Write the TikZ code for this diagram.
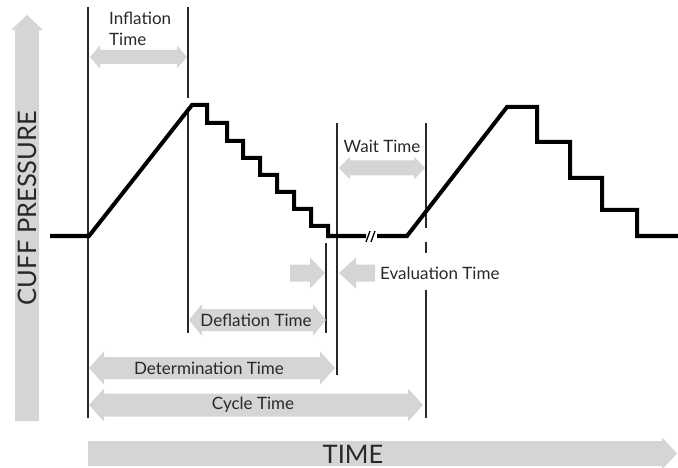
\documentclass[tikz,border=0pt]{standalone}
\usepackage{fontspec}
\setmainfont{Lato}
\definecolor{bargray}{RGB}{212,213,215}
\definecolor{inkgray}{RGB}{40,40,40}
% double headed fat arrow: x1, x2, y, shaft half, head half, head length
\newcommand{\twoarrow}[6]{\fill[bargray] (#1,#3) -- ({#1+#6},{#3-#5}) -- ({#1+#6},{#3-#4}) -- ({#2-#6},{#3-#4}) -- ({#2-#6},{#3-#5}) -- (#2,#3) -- ({#2-#6},{#3+#5}) -- ({#2-#6},{#3+#4}) -- ({#1+#6},{#3+#4}) -- ({#1+#6},{#3+#5}) -- cycle;}
% single fat arrow: tail x, head base x, tip x, y, shaft half, head half
\newcommand{\onearrow}[6]{\fill[bargray] (#1,{#4-#5}) -- (#2,{#4-#5}) -- (#2,{#4-#6}) -- (#3,#4) -- (#2,{#4+#6}) -- (#2,{#4+#5}) -- (#1,{#4+#5}) -- cycle;}

\begin{document}
\begin{tikzpicture}[x=1pt, y=-1pt,
    pressure/.style = {line width=4pt, miter limit=10},
    guide/.style = {line width=1.1pt, draw=inkgray},
    lbl/.style = {text=inkgray, font=\fontsize{17}{21}\selectfont, inner sep=0pt},
    big/.style = {text=inkgray, inner sep=0pt}]
  \useasboundingbox (0,0) rectangle (678,468);

  % axes
  \fill[bargray] (15,421) -- (15,30) -- (11,30) -- (27,15) -- (43,30) -- (39,30) -- (39,421) -- cycle;
  \fill[bargray] (88,441) -- (662,441) -- (662,437.5) -- (677,453.5) -- (662,469.5) -- (662,466) -- (88,466) -- cycle;
  \node[big, rotate=90, font=\fontsize{25.5}{28}\selectfont] (cuff) at (27,208) {CUFF PRESSURE};
  \node[big, font=\fontsize{25.5}{28}\selectfont] (time) at (353,454) {TIME};

  % guide lines
  \draw[guide] (88,7) -- (88,418);
  \draw[guide] (188,7) -- (188,98);
  \draw[guide] (188,111) -- (188,333);
  \draw[guide] (326,243) -- (326,333);
  \draw[guide] (337,123) -- (337,375);
  \draw[guide] (426,123) -- (426,228);
  \draw[guide] (426,242) -- (426,253);
  \draw[guide] (426,290) -- (426,418);

  % time spans
  \twoarrow{90}{187}{57}{7}{11.5}{10}
  \node[lbl, align=left, anchor=west] (infl) at (109,29) {Inflation\\Time};
  \twoarrow{339}{425}{168}{7.5}{11.5}{11}
  \node[lbl] (wait) at (382,146) {Wait Time};
  \onearrow{290}{310}{325}{273}{8.5}{15.5}
  \onearrow{375}{356}{339}{273}{8.5}{15.5}
  \node[lbl, anchor=west] (eval) at (380,273) {Evaluation Time};
  \twoarrow{189}{326}{320}{11}{16}{13}
  \node[lbl] (defl) at (256,320) {Deflation Time};
  \twoarrow{89}{335}{368}{11}{16.5}{15}
  \node[lbl] (det) at (209,368) {Determination Time};
  \twoarrow{89}{423}{405}{11.5}{16.5}{15}
  \node[lbl] (cyc) at (253,405) {Cycle Time};

  % cuff pressure curve
  \draw[pressure] (50,236) -- (89,236) -- (192,105) -- (207,105) -- (207,123) -- (227,123)
    -- (227,141) -- (243,141) -- (243,158) -- (260,158) -- (260,175) -- (277,175)
    -- (277,192) -- (294,192) -- (294,209) -- (311,209) -- (311,226) -- (328,226)
    -- (328,236) -- (366,236);
  \draw[pressure] (377,236) -- (407,236) -- (507,107) -- (537,107) -- (537,142) -- (570,142)
    -- (570,178) -- (602,178) -- (602,210) -- (637,210) -- (637,236) -- (678,236);
  \draw[line width=1.3pt] (366,242) -- (370,231) (371,242) -- (375,231);
\end{tikzpicture}
\end{document}
